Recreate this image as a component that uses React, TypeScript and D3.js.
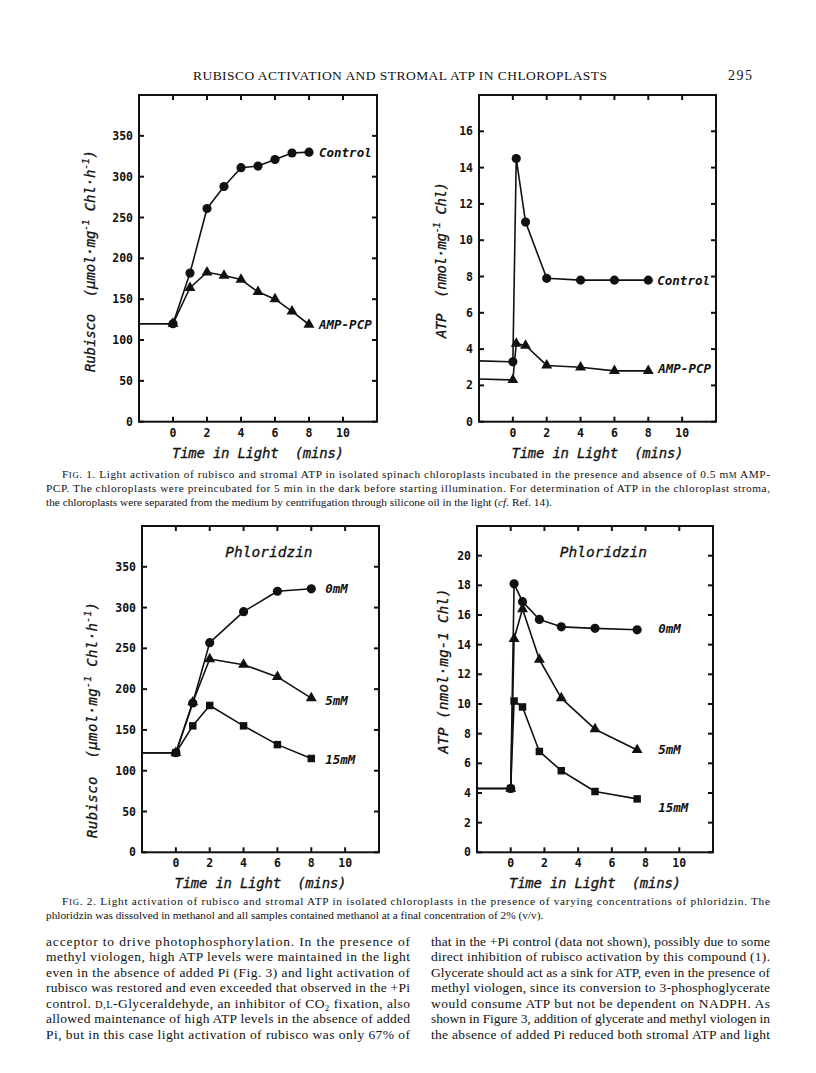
import React from 'react';
import * as d3 from 'd3';

// ---------- shared ticks ----------
const xTicks = [0, 2, 4, 6, 8, 10];
const rubiscoTicks = [0, 50, 100, 150, 200, 250, 300, 350];
const atpTicksFig1 = [0, 2, 4, 6, 8, 10, 12, 14, 16];
const atpTicksFig2 = [0, 2, 4, 6, 8, 10, 12, 14, 16, 18, 20];

// ---------- Fig 1A: rubisco, control vs AMP-PCP ----------
const time1A = [0, 1, 2, 3, 4, 5, 6, 7, 8];
const control1A = [120, 182, 261, 288, 311, 313, 321, 329, 330];
const ampPcp1A = [120, 164, 183, 179, 174, 159, 150, 135, 119];
const dark1A = 120;

// ---------- Fig 1B: ATP, control vs AMP-PCP ----------
const time1B = [0, 0.2, 0.75, 2, 4, 6, 8];
const control1B = [3.3, 14.5, 11.0, 7.9, 7.8, 7.8, 7.8];
const ampPcp1B = [2.3, 4.3, 4.2, 3.1, 3.0, 2.8, 2.8];
const darkControl1B = 3.35;
const darkAmp1B = 2.35;

// ---------- Fig 2A: rubisco with phloridzin ----------
const time2A = [0, 1, 2, 4, 6, 8];
const phl0mM2A = [122, 183, 257, 295, 320, 323];
const phl5mM2A = [122, 184, 237, 230, 215, 189];
const phl15mM2A = [122, 155, 180, 155, 132, 115];
const dark2A = 122;

// ---------- Fig 2B: ATP with phloridzin ----------
const time2B = [0, 0.2, 0.7, 1.7, 3, 5, 7.5];
const phl0mM2B = [4.3, 18.1, 16.9, 15.7, 15.2, 15.1, 15.0];
const phl5mM2B = [4.3, 14.4, 16.4, 13.0, 10.4, 8.3, 6.9];
const phl15mM2B = [4.3, 10.2, 9.8, 6.8, 5.5, 4.1, 3.6];
const dark2B = 4.3;

const MONO = '"DejaVu Sans Mono", "Liberation Mono", monospace';
const SERIF = '"Liberation Serif", "Times New Roman", serif';
const INK = '#111';

type Shape = 'circle' | 'triangle' | 'square';
interface Series {
  xs: number[];
  ys: number[];
  dark: number;
  shape: Shape;
  label: string;
  dx: number;
  dy: number;
}
interface Box { left: number; right: number; top: number; bottom: number; }

const symbolOf = (s: Shape) => {
  if (s === 'circle') return d3.symbol().type(d3.symbolCircle).size(66)();
  if (s === 'triangle') return d3.symbol().type(d3.symbolTriangle).size(52)();
  return d3.symbol().type(d3.symbolSquare).size(56)();
};

function Panel(props: {
  box: Box;
  yDomain: [number, number];
  yTicks: number[];
  series: Series[];
  yLabel: React.ReactNode;
  yLabelPos: [number, number, number];
  title?: string;
}) {
  const { box, yDomain, yTicks, series, yLabel, yLabelPos, title } = props;
  const x = d3.scaleLinear().domain([-2, 12]).range([box.left, box.right]);
  const y = d3.scaleLinear().domain(yDomain).range([box.bottom, box.top]);
  const line = d3
    .line<[number, number]>()
    .x((d) => x(d[0]))
    .y((d) => y(d[1]));
  const tk = 5;
  return (
    <g>
      {series.map((s, i) => {
        const pts: [number, number][] = [[x.domain()[0], s.dark]];
        s.xs.forEach((v, j) => pts.push([v, s.ys[j]]));
        return (
          <path key={'l' + i} d={line(pts) || ''} fill="none" stroke={INK} strokeWidth={1.6} strokeLinejoin="round" />
        );
      })}
      {series.map((s, i) =>
        s.xs.map((v, j) => (
          <path
            key={'m' + i + '-' + j}
            d={symbolOf(s.shape) || ''}
            transform={`translate(${x(v)},${y(s.ys[j])})`}
            fill={INK}
          />
        ))
      )}
      <rect
        x={box.left}
        y={box.top}
        width={box.right - box.left}
        height={box.bottom - box.top}
        fill="none"
        stroke={INK}
        strokeWidth={2}
      />
      {xTicks.map((t) => (
        <g key={'xt' + t}>
          <line x1={x(t)} x2={x(t)} y1={box.bottom} y2={box.bottom - tk} stroke={INK} strokeWidth={2} />
          <line x1={x(t)} x2={x(t)} y1={box.top} y2={box.top + tk} stroke={INK} strokeWidth={2} />
          <text
            x={x(t)}
            y={box.bottom + 11}
            textAnchor="middle"
            dominantBaseline="central"
            fontFamily={MONO}
            fontWeight="bold"
            fontSize={11.5}
            fill={INK}
          >
            {t}
          </text>
        </g>
      ))}
      {yTicks.map((t) => (
        <g key={'yt' + t}>
          <line x1={box.left} x2={box.left + tk} y1={y(t)} y2={y(t)} stroke={INK} strokeWidth={2} />
          <line x1={box.right} x2={box.right - tk} y1={y(t)} y2={y(t)} stroke={INK} strokeWidth={2} />
          <text
            x={box.left - 6}
            y={y(t)}
            textAnchor="end"
            dominantBaseline="central"
            fontFamily={MONO}
            fontWeight="bold"
            fontSize={11.5}
            fill={INK}
          >
            {t}
          </text>
        </g>
      ))}
      {series.map((s, i) => (
        <text
          key={'sl' + i}
          x={x(s.xs[s.xs.length - 1]) + s.dx}
          y={y(s.ys[s.ys.length - 1]) + s.dy}
          dominantBaseline="central"
          fontFamily={MONO}
          fontStyle="oblique"
          fontWeight="bold"
          fontSize={12.5}
          fill={INK}
        >
          {s.label}
        </text>
      ))}
      {title && (
        <text
          x={x(5.5)}
          y={box.top + 26}
          textAnchor="middle"
          dominantBaseline="central"
          fontFamily={MONO}
          fontStyle="oblique"
          fontSize={14.5}
          fill={INK}
          stroke={INK}
          strokeWidth={0.3}
        >
          {title}
        </text>
      )}
      <text
        x={x(5)}
        y={box.bottom + 31}
        textAnchor="middle"
        dominantBaseline="central"
        fontFamily={MONO}
        fontStyle="oblique"
        fontSize={14}
        fill={INK}
        stroke={INK}
        strokeWidth={0.3}
        style={{ whiteSpace: 'pre' }}
        textLength={172}
        lengthAdjust="spacing"
      >
        {'Time in Light  (mins)'}
      </text>
      <text
        transform={`translate(${yLabelPos[0]},${yLabelPos[1]}) rotate(-90)`}
        textAnchor="middle"
        dominantBaseline="central"
        fontFamily={MONO}
        fontStyle="oblique"
        fontSize={14}
        fill={INK}
        stroke={INK}
        strokeWidth={0.3}
        style={{ whiteSpace: 'pre' }}
        textLength={yLabelPos[2]}
        lengthAdjust="spacing"
      >
        {yLabel}
      </text>
    </g>
  );
}

const rubiscoLabel = (
  <>
    {'Rubisco  (µmol·mg'}
    <tspan fontSize={9.5} dy={-5}>-1</tspan>
    <tspan dy={5}>{' Chl·h'}</tspan>
    <tspan fontSize={9.5} dy={-5}>-1</tspan>
    <tspan dy={5}>{')'}</tspan>
  </>
);
const atpLabel1 = (
  <>
    {'ATP  (nmol·mg'}
    <tspan fontSize={9.5} dy={-5}>-1</tspan>
    <tspan dy={5}>{' Chl)'}</tspan>
  </>
);
const atpLabel2 = <>{'ATP (nmol·mg-1 Chl)'}</>;

function Line(props: {
  x: number;
  y: number;
  len?: number;
  size: number;
  children: React.ReactNode;
}) {
  const { x, y, len, size, children } = props;
  return (
    <text
      x={x}
      y={y}
      fontFamily={SERIF}
      fontSize={size}
      fill={INK}
      textLength={len}
      lengthAdjust={len ? 'spacing' : undefined}
    >
      {children}
    </text>
  );
}

const SC = ({ t, s }: { t: string; s: number }) => <tspan fontSize={s}>{t}</tspan>;

const bodyLeft = [
  'acceptor to drive photophosphorylation. In the presence of',
  'methyl viologen, high ATP levels were maintained in the light',
  'even in the absence of added Pi (Fig. 3) and light activation of',
  'rubisco was restored and even exceeded that observed in the +Pi',
  null,
  'allowed maintenance of high ATP levels in the absence of added',
  'Pi, but in this case light activation of rubisco was only 67% of',
];
const bodyRight = [
  'that in the +Pi control (data not shown), possibly due to some',
  'direct inhibition of rubisco activation by this compound (1).',
  'Glycerate should act as a sink for ATP, even in the presence of',
  'methyl viologen, since its conversion to 3-phosphoglycerate',
  'would consume ATP but not be dependent on NADPH. As',
  'shown in Figure 3, addition of glycerate and methyl viologen in',
  'the absence of added Pi reduced both stromal ATP and light',
];

export default function App() {
  const fig1A: Series[] = [
    { xs: time1A, ys: control1A, dark: dark1A, shape: 'circle', label: 'Control', dx: 10, dy: 0 },
    { xs: time1A, ys: ampPcp1A, dark: dark1A, shape: 'triangle', label: 'AMP-PCP', dx: 10, dy: 0 },
  ];
  const fig1B: Series[] = [
    { xs: time1B, ys: control1B, dark: darkControl1B, shape: 'circle', label: 'Control', dx: 9, dy: 0 },
    { xs: time1B, ys: ampPcp1B, dark: darkAmp1B, shape: 'triangle', label: 'AMP-PCP', dx: 10, dy: -2 },
  ];
  const fig2A: Series[] = [
    { xs: time2A, ys: phl0mM2A, dark: dark2A, shape: 'circle', label: '0mM', dx: 14, dy: 0 },
    { xs: time2A, ys: phl5mM2A, dark: dark2A, shape: 'triangle', label: '5mM', dx: 14, dy: 2 },
    { xs: time2A, ys: phl15mM2A, dark: dark2A, shape: 'square', label: '15mM', dx: 14, dy: 1 },
  ];
  const fig2B: Series[] = [
    { xs: time2B, ys: phl0mM2B, dark: dark2B, shape: 'circle', label: '0mM', dx: 21, dy: -1 },
    { xs: time2B, ys: phl5mM2B, dark: dark2B, shape: 'triangle', label: '5mM', dx: 21, dy: 0 },
    { xs: time2B, ys: phl15mM2B, dark: dark2B, shape: 'square', label: '15mM', dx: 21, dy: 9 },
  ];

  const capSize = 11.3;
  const sc = 8.8;
  const bodySize = 13.5;
  const bodyY0 = 945.5;
  const bodyDy = 15.5;

  return (
    <svg
      width={816}
      height={1073}
      style={{ position: 'absolute', left: 0, top: 0, background: '#fff' }}
    >
      <rect x={0} y={0} width={816} height={1073} fill="#fff" />
      <Line x={193} y={80} len={414} size={13.5}>
        RUBISCO ACTIVATION AND STROMAL ATP IN CHLOROPLASTS
      </Line>
      <Line x={728} y={80} len={24} size={14}>
        295
      </Line>

      <Panel
        box={{ left: 139, right: 377, top: 95, bottom: 421.7 }}
        yDomain={[0, 400]}
        yTicks={rubiscoTicks}
        series={fig1A}
        yLabel={rubiscoLabel}
        yLabelPos={[90, 261, 222]}
      />
      <Panel
        box={{ left: 479, right: 716, top: 95, bottom: 421.7 }}
        yDomain={[0, 18]}
        yTicks={atpTicksFig1}
        series={fig1B}
        yLabel={atpLabel1}
        yLabelPos={[441, 260, 156]}
      />
      <Panel
        box={{ left: 142, right: 379, top: 526, bottom: 852.3 }}
        yDomain={[0, 400]}
        yTicks={rubiscoTicks}
        series={fig2A}
        yLabel={rubiscoLabel}
        yLabelPos={[92, 720, 236]}
        title="Phloridzin"
      />
      <Panel
        box={{ left: 477, right: 713, top: 526, bottom: 852.3 }}
        yDomain={[0, 22]}
        yTicks={atpTicksFig2}
        series={fig2B}
        yLabel={atpLabel2}
        yLabelPos={[443, 671, 165]}
        title="Phloridzin"
      />

      <Line x={62} y={478} len={708} size={capSize}>
        {'F'}<SC t="IG" s={sc} />{'. 1. Light activation of rubisco and stromal ATP in isolated spinach chloroplasts incubated in the presence and absence of 0.5 m'}<SC t="M" s={sc} />{' AMP-'}
      </Line>
      <Line x={46} y={492} len={724} size={capSize}>
        PCP. The chloroplasts were preincubated for 5 min in the dark before starting illumination. For determination of ATP in the chloroplast stroma,
      </Line>
      <Line x={46} y={506} size={capSize}>
        {'the chloroplasts were separated from the medium by centrifugation through silicone oil in the light ('}<tspan fontStyle="italic">cf.</tspan>{' Ref. 14).'}
      </Line>

      <Line x={62} y={905} len={708} size={capSize}>
        {'F'}<SC t="IG" s={sc} />{'. 2. Light activation of rubisco and stromal ATP in isolated chloroplasts in the presence of varying concentrations of phloridzin. The'}
      </Line>
      <Line x={46} y={919} size={capSize}>
        phloridzin was dissolved in methanol and all samples contained methanol at a final concentration of 2% (v/v).
      </Line>

      {bodyLeft.map((t, i) =>
        t ? (
          <Line key={'bl' + i} x={46} y={bodyY0 + i * bodyDy} len={364} size={bodySize}>
            {t}
          </Line>
        ) : (
          <Line key={'bl' + i} x={46} y={bodyY0 + i * bodyDy} len={364} size={bodySize}>
            {'control. '}<SC t="D,L" s={10.5} />{'-Glyceraldehyde, an inhibitor of CO'}
            <tspan fontSize={9} dy={3}>2</tspan>
            <tspan dy={-3}>{' fixation, also'}</tspan>
          </Line>
        )
      )}
      {bodyRight.map((t, i) => (
        <Line key={'br' + i} x={431} y={bodyY0 + i * bodyDy} len={339} size={bodySize}>
          {t}
        </Line>
      ))}
    </svg>
  );
}
